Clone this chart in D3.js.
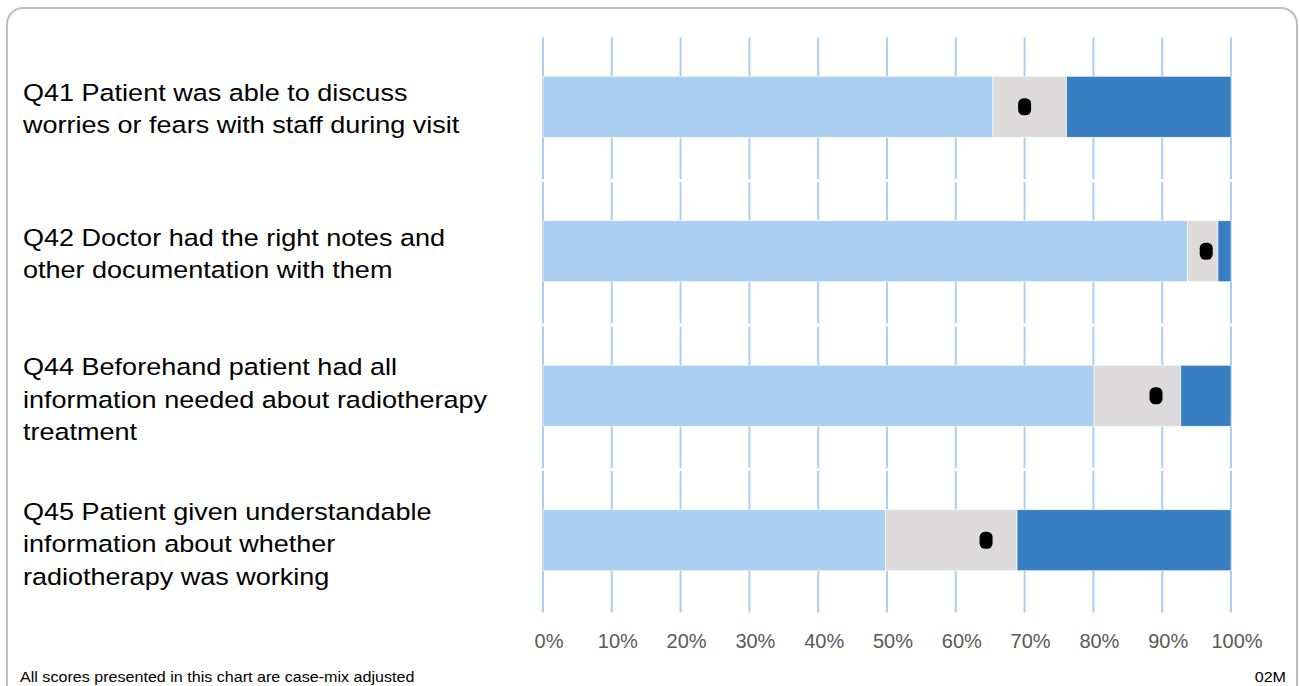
<!DOCTYPE html>
<html>
<head>
<meta charset="utf-8">
<script src="https://cdn.jsdelivr.net/npm/d3@7"></script>
<style>
  body { margin: 0; background: #fff; }
  svg { display: block; font-family: 'Liberation Sans', Arial, sans-serif; }
</style>
</head>
<body>
<div class="bar_chart"></div>
<script>
const questions = ['Q41', 'Q42', 'Q44', 'Q45']
const labelLines = [
  ['Q41 Patient was able to discuss', 'worries or fears with staff during visit'],
  ['Q42 Doctor had the right notes and', 'other documentation with them'],
  ['Q44 Beforehand patient had all', 'information needed about radiotherapy', 'treatment'],
  ['Q45 Patient given understandable', 'information about whether', 'radiotherapy was working']
]
// lower end of middle band, upper end of middle band, trust score
const lowerBound = [65.4, 93.7, 80.1, 49.8]
const upperBound = [76.1, 98.1, 92.7, 68.9]
const score = [70.0, 96.4, 89.1, 64.4]
const ticks = [0, 10, 20, 30, 40, 50, 60, 70, 80, 90, 100]
const footnote = 'All scores presented in this chart are case-mix adjusted'
const code = '02M'

const colors = { low: '#aacff2', mid: '#dcdadb', high: '#377fc2', grid: '#aacff2' }
const stretch = 1.15  // labels in the original are drawn a bit wide

function drawChart () {
  const width = 1300
  const height = 686
  const svg = d3.select('.bar_chart').append('svg')
    .attr('width', width)
    .attr('height', height)

  svg.append('rect')
    .attr('x', 7).attr('y', 8)
    .attr('width', 1290).attr('height', 700)
    .attr('rx', 16)
    .attr('fill', 'none')
    .attr('stroke', '#bfbfbf')
    .attr('stroke-width', 2)

  const x = d3.scaleLinear().domain([0, 100]).range([543, 1231])
  const y = d3.scaleBand().domain(questions).range([36, 614])

  const data = questions.map((q, i) => {
    return { q: q, lines: labelLines[i], lo: lowerBound[i], hi: upperBound[i], score: score[i] }
  })

  // gridlines, broken between each category band
  const grid = svg.append('g')
  questions.forEach((q) => {
    grid.selectAll(null)
      .data(ticks)
      .enter().append('line')
      .attr('x1', (d) => x(d)).attr('x2', (d) => x(d))
      .attr('y1', y(q) + 1.5)
      .attr('y2', y(q) + y.bandwidth() - 1.5)
      .attr('stroke', colors.grid)
      .attr('stroke-width', 2)
  })

  const barH = 61
  const g = svg.selectAll('.bar')
    .data(data)
    .enter().append('g')
    .attr('transform', (d) => 'translate(0,' + (y(d.q) + y.bandwidth() / 2 - 1.5) + ')')

  const segs = (d) => [[0, d.lo, colors.low], [d.lo, d.hi, colors.mid], [d.hi, 100, colors.high]]
  g.selectAll('rect.seg')
    .data(segs)
    .enter().append('rect')
    .attr('class', 'seg')
    .attr('x', (s) => x(s[0]))
    .attr('width', (s) => x(s[1]) - x(s[0]))
    .attr('y', -barH / 2)
    .attr('height', barH)
    .attr('fill', (s) => s[2])
    .attr('stroke', '#ffffff')
    .attr('stroke-width', 0.6)

  g.append('rect')
    .attr('x', (d) => x(d.score) - 6.5)
    .attr('y', -8.5)
    .attr('width', 13)
    .attr('height', 17)
    .attr('rx', 5.5)
    .attr('fill', '#000')

  // category labels
  const lineH = 32.5
  g.append('text')
    .attr('transform', 'translate(23,0) scale(' + stretch + ',1)')
    .attr('font-size', '23.5px')
    .attr('fill', '#000')
    .each(function (d) {
      const n = d.lines.length
      d3.select(this).selectAll('tspan')
        .data(d.lines)
        .enter().append('tspan')
        .attr('x', 0)
        .attr('y', (l, i) => (i - (n - 1) / 2) * lineH + (n > 2 ? 12 : 10.5))
        .text((l) => l)
    })

  // x axis labels
  svg.append('g').selectAll('text')
    .data(ticks)
    .enter().append('text')
    .attr('x', (d) => x(d) + 6)
    .attr('y', 648)
    .attr('text-anchor', 'middle')
    .attr('font-size', '20px')
    .attr('fill', '#595959')
    .text((d) => d + '%')

  svg.append('text')
    .attr('transform', 'translate(20,681.5) scale(' + stretch + ',1)')
    .attr('font-size', '14px')
    .attr('fill', '#000')
    .text(footnote)

  svg.append('text')
    .attr('transform', 'translate(1286,681.5) scale(' + stretch + ',1)')
    .attr('text-anchor', 'end')
    .attr('font-size', '14px')
    .attr('fill', '#000')
    .text(code)
}

drawChart()
</script>
</body>
</html>
